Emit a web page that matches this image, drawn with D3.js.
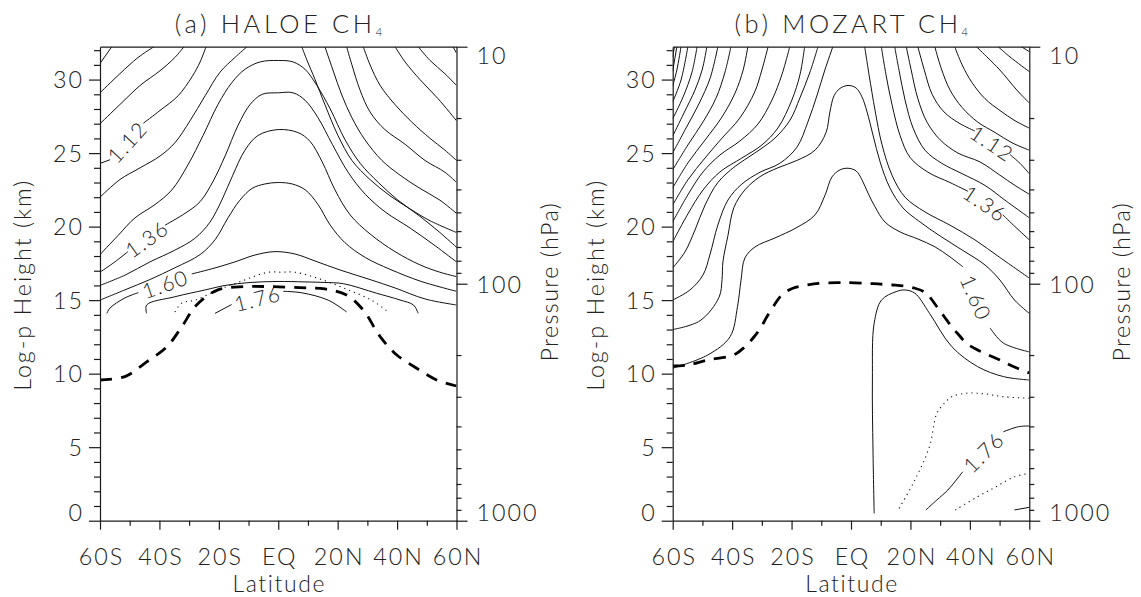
<!DOCTYPE html>
<html><head><meta charset="utf-8">
<script src="https://cdn.jsdelivr.net/npm/d3@7"></script>
<style>
body{margin:0;background:#fff}
svg{display:block}
text{font-family:Lato,"Liberation Sans",Arial,sans-serif;font-weight:300;fill:#222}
</style></head>
<body><svg id="c" width="1141" height="597"></svg>
<script>
// ---------- axis data ----------
const latTicks = [-60,-40,-20,0,20,40,60];
const latLabels = ["60S","40S","20S","EQ","20N","40N","60N"];
const latMinor = [-50,-30,-10,10,30,50];
const heightTicks = [0,5,10,15,20,25,30];
const heightMinor = [1,2,3,4,6,7,8,9,11,12,13,14,16,17,18,19,21,22,23,24,26,27,28,29,31,32];
const pressureTicks = [10,100,1000];
const pressureMinor = [20,30,40,50,60,70,80,90,200,300,400,500,600,700,800,900];
const scaleHeight = 7;           // km, log-p height
const pTop = 10, pBottom = 1000; // hPa

// ---------- panel (a) HALOE CH4 : contour lines [lat, km] ----------
const haloeLines = [
 {segs:[[[-60,31.1],[-56.0,32.24]]]},
 {segs:[[[-60,29.1],[-53.3,30.4],[-47.2,31.5],[-41.8,32.24]]]},
 {segs:[[[-60,27.0],[-53.3,28.3],[-46.5,29.6],[-39.8,30.6],[-34.8,31.5],[-31.7,32.24]]]},
 {lev:"1.12",lab:0,segs:[[[-60,24.3],[-56.6,24.55]],[[-45.4,27.03],[-39.8,27.9],[-33.7,28.9],[-29.0,30.2],[-26.3,31.2],[-24.3,32.24]],
   [[15.7,32.24],[18.4,30.65],[21.4,28.95],[24.8,27.4],[29.2,25.9],[34.9,24.5],[41.0,23.5],[47.7,22.6],[54.4,21.8],[60,20.9]]]},
 {segs:[[[-60,22.0],[-53.3,23.2],[-46.5,24.0],[-39.8,24.8],[-34.8,25.7],[-29.7,27.2],[-24.6,28.9],[-19.6,30.5],[-14.6,31.5],[-10.5,32.24]],
   [[7.9,32.24],[9.7,31.3],[12.4,30.0],[15.7,28.3],[20.1,26.2],[24.8,24.5],[30.9,23.2],[37.6,22.1],[44.4,21.2],[51.1,20.4],[60,19.6]]]},
 {segs:[[[23.0,32.24],[24.8,31.0],[27.5,29.3],[30.9,27.8],[35.9,26.6],[42.7,25.6],[49.4,24.5],[56.1,23.7],[60,23.0]]]},
 {segs:[[[28.6,32.24],[30.9,31.0],[34.3,29.6],[39.3,28.3],[45.0,27.1],[51.1,26.0],[56.1,25.2],[60,24.5]]]},
 {segs:[[[39.3,32.24],[42.7,31.2],[47.7,30.0],[53.8,28.7],[60,27.2]]]},
 {segs:[[[47.1,32.24],[51.1,31.3],[56.1,30.4],[60,29.6]]]},
 {segs:[[[58.8,32.24],[60,31.8]]]},
 {segs:[[[-60,18.1],[-53.9,19.4],[-48.2,20.6],[-41.5,21.5],[-35.8,22.5],[-30.4,24.2],[-25.3,26.2],[-20.3,28.3],[-15.6,29.8],[-11.2,30.7],[-6.1,31.2],[0,31.3],[5.0,31.2],[9.0,30.7],[13.0,29.6],[17.5,28.0],[22.5,25.9],[27.6,24.3],[33.7,23.0],[40.3,21.8],[47.7,20.7],[54.4,19.6],[60,18.6]]]},
 {lev:"1.36",lab:0,segs:[[[-60,16.9],[-55.0,17.6],[-50.6,18.3]],[[-38.1,20.1],[-31.4,20.9],[-26.3,21.7],[-21.9,23.1],[-17.9,24.8],[-13.5,26.9],[-9.5,28.3],[-5.4,29.0],[0,29.1],[5.0,29.1],[9.0,28.6],[13.4,27.4],[18.2,25.6],[23.5,23.7],[29.3,22.2],[36.0,21.0],[44.4,19.9],[52.8,18.7],[60,17.6]]]},
 {segs:[[[-60,16.0],[-51.6,16.7],[-43.2,17.6],[-34.8,18.4],[-28.1,19.2],[-23.0,20.3],[-19.0,21.8],[-15.3,23.5],[-11.2,25.2],[-6.8,26.2],[0,26.6],[6.6,26.4],[10.7,25.8],[14.8,24.4],[19.1,22.5],[24.2,20.8],[30.9,19.5],[39.3,18.3],[47.7,17.4],[54.4,16.9],[60,16.6]]]},
 {segs:[[[-60,15.0],[-51.6,15.7],[-43.2,16.4],[-34.8,17.2],[-26.3,18.1],[-21.3,19.1],[-16.9,20.6],[-12.9,21.8],[-8.8,22.6],[-4.5,22.9],[0,23.0],[4.7,22.9],[9.1,22.5],[13.4,21.5],[17.5,20.1],[22.5,18.9],[29.3,17.9],[37.6,17.1],[47.7,16.3],[54.4,15.9],[60,15.6]]]},
 {lev:"1.60",lab:0,segs:[[[-57.7,14.1],[-56.6,14.47],[-51.6,15.15],[-47.1,15.51]],
   [[-29.1,16.78],[-21.3,17.19],[-14.6,17.6],[-7.8,18.07],[-1.1,18.3],[5.6,18.14],[12.4,17.66],[20.8,17.05],[30.9,16.4],[39.3,15.83],[49.4,15.08],[60,14.67]]]},
 {segs:[[[-44.3,14.1],[-44.3,14.67],[-34.8,15.23],[-24.7,15.69],[-17.9,16.0],[-9.5,16.2],[-0.1,16.27],[9.0,16.24],[15.7,16.2],[21.9,16.12],[33.1,15.47],[41.0,15.01],[45.5,14.67],[47.1,14.1]]]},
 {dot:true,segs:[[[-34.8,14.2],[-32.5,14.8],[-28.0,15.0],[-20.2,15.7],[-12.3,16.3],[-3.4,16.9],[1.1,16.9],[5.6,16.9],[14.6,16.4],[23.5,15.7],[31.4,15.0],[37.0,14.2]]]},
 {lev:"1.76",lab:0,segs:[[[-21.3,14.1],[-15.7,14.7]],[[1.7,15.6],[7.9,15.5],[16.8,15.0],[23.0,14.2]]]}
];
const haloeTropopause = [[-60,9.57],[-51.6,9.80],[-44.3,10.80],[-37.5,11.82],[-32.5,13.18],[-27.5,14.67],[-20.3,15.70],[-11.2,15.92],[-2.8,15.92],[7.3,15.85],[15.7,15.76],[23.0,15.35],[28.6,14.33],[34.3,12.52],[39.9,11.27],[46.6,10.37],[53.3,9.57],[60,9.16]];

// ---------- panel (b) MOZART CH4 ----------
const mozartLines = [
 {segs:[[[-60,31.54],[-59.4,32.24]]]},
 {segs:[[[-60,30.59],[-58.6,32.24]]]},
 {segs:[[[-60,29.57],[-58.6,30.65],[-57.2,32.24]]]},
 {segs:[[[-60,28.48],[-57.2,29.97],[-54.9,32.24]]]},
 {segs:[[[-60,27.33],[-56.5,28.82],[-53.5,30.51],[-51.8,32.24]], [[57.3,32.24],[60,31.9]]]},
 {segs:[[[-60,26.16],[-56.2,27.73],[-52.5,29.29],[-50.1,30.65],[-48.5,32.24]], [[49.5,32.24],[53.5,31.54],[60,30.54]]]},
 {segs:[[[-60,25.01],[-55.5,26.71],[-51.2,28.34],[-47.4,30.1],[-44.8,32.24]], [[42.2,32.24],[46.1,31.47],[50.1,30.65],[55.8,29.29],[60,28.41]]]},
 {segs:[[[-60,23.86],[-54.9,25.55],[-49.8,27.12],[-45.4,28.75],[-42.4,30.51],[-40.4,32.24]],
   [[34.9,32.24],[37.4,31.0],[40.7,29.8],[45.1,28.7],[50.1,27.9],[55.2,27.2],[60,26.7]]]},
 {segs:[[[-60,22.63],[-54.9,24.33],[-49.1,25.89],[-43.4,27.46],[-39.0,29.09],[-36.3,30.65],[-34.7,32.24]],
   [[28.2,32.24],[30.3,30.8],[33.3,29.3],[37.4,28.1],[42.7,27.1],[48.5,26.4],[54.2,25.7],[60,25.2]]]},
 {lev:"1.12",lab:1,segs:[[[-60,21.47],[-54.9,23.18],[-49.1,24.67],[-43.4,26.02],[-37.4,27.39],[-32.4,29.16],[-30.0,30.65],[-27.9,32.24]],
   [[22.5,32.24],[24.6,30.7],[27.3,29.0],[31.3,27.8],[36.7,27.0],[41.7,26.5]],[[53.5,24.9],[56.9,24.3],[60,23.6]]]},
 {segs:[[[-60,20.32],[-54.9,22.16],[-49.8,23.72],[-44.1,24.87],[-37.4,25.82],[-31.3,26.98],[-26.6,28.61],[-23.3,30.31],[-20.6,32.24]],
   [[18.6,32.24],[20.2,30.7],[22.5,28.7],[25.6,27.1],[30.0,25.9],[36.0,25.0],[43.4,24.4],[50.1,23.5],[55.2,22.8],[60,22.2]]]},
 {segs:[[[-60,18.96],[-54.9,20.86],[-49.8,22.49],[-44.1,23.72],[-36.7,24.67],[-30.0,25.55],[-24.6,26.71],[-19.9,28.61],[-17.2,30.31],[-15.6,32.24]],
   [[14.7,32.24],[16.2,30.6],[18.2,28.6],[20.9,26.7],[24.9,25.2],[30.6,24.3],[37.4,23.6],[45.1,22.8],[51.8,21.8],[60,20.6]]]},
 {lev:"1.36",lab:1,segs:[[[-60,17.19],[-55.9,18.27],[-52.5,19.77],[-49.1,21.47],[-44.8,23.0],[-39.0,24.1],[-32.4,25.0],[-25.6,26.02],[-20.5,27.25],[-17.2,28.75],[-13.8,30.51],[-11.1,32.24]],
   [[10.2,32.24],[11.8,30.3],[13.8,28.3],[16.5,26.2],[19.9,24.7],[25.9,23.7],[33.3,23.0],[39.4,22.4]],[[51.1,20.8],[55.2,20.0],[60,19.1]]]},
 {segs:[[[-60,15.01],[-54.2,15.69],[-49.8,16.71],[-47.5,18.07],[-44.8,20.11],[-41.4,21.81],[-36.7,22.9],[-30.6,23.7],[-24.0,24.3],[-18.2,25.4],[-14.5,27.12],[-11.4,28.95],[-8.8,30.65],[-6.1,32.24]],
   [[4.6,32.24],[6.1,30.3],[8.1,27.9],[10.4,25.6],[13.8,23.5],[18.2,22.0],[24.9,21.0],[33.3,20.1],[41.7,19.1],[50.1,17.9],[60,16.5]]]},
 {segs:[[[-60,13.0],[-50.8,13.6],[-44.4,15.2],[-43.4,16.4],[-43.1,17.6],[-41.4,19.4],[-39.4,21.3],[-35.7,22.5],[-30.6,23.4],[-24.6,24.0],[-18.2,24.5],[-12.1,25.2],[-8.4,26.4],[-7.1,27.8],[-5.7,28.9],[-3.7,29.4],[-1.0,29.6],[1.7,29.43],[3.7,28.82],[5.4,27.8],[7.4,26.23],[9.8,24.4],[13.1,22.63],[17.5,21.27],[23.2,20.32],[30.0,19.36],[37.4,18.41],[45.1,17.39],[50.1,16.37],[55.0,15.01],[60,14.1]]]},
 {lev:"1.60",lab:0,segs:[[[-60,10.37],[-48.2,11.27],[-40.7,12.51],[-38.2,14.55],[-37.0,16.37],[-35.7,17.87],[-32.3,18.62],[-25.6,19.23],[-18.5,19.91],[-12.1,20.8],[-8.7,22.16],[-6.4,23.38],[-3.7,23.86],[-1.0,23.97],[1.7,23.79],[3.7,23.18],[5.7,22.29],[8.1,21.34],[11.4,20.32],[16.5,19.64],[22.5,19.16],[28.3,18.62],[33.3,17.94],[37.7,17.26]],
   [[46.8,13.11],[51.2,12.09],[60,11.48]]]},
 {segs:[[[60,9.57],[51.3,9.8],[42.6,10.48],[33.9,11.84],[26.4,14.11],[21.5,15.47],[18.2,15.69],[15.2,15.58],[10.3,15.01],[7.8,13.43],[7.2,9.57],[7.4,4.81],[7.8,0.5]]]},
 {dot:true,segs:[[[16.2,0.84],[21.5,2.77],[26.4,5.03],[28.9,7.3],[31.4,7.98],[33.9,8.43],[38.9,8.67],[45.1,8.62],[51.3,8.43],[60,8.33]]]},
 {lev:"1.76",lab:0,segs:[[[25.2,0.73],[28.9,1.41],[32.6,2.09],[37.6,3.33]],[[51.3,6.05],[56.3,6.39],[60,6.44]]]},
 {dot:true,segs:[[[35.1,0.73],[42.6,1.63],[48.8,2.31],[55.0,2.99],[60,3.22]]]},
 {segs:[[[55.0,0.73],[60,0.91]]]}
];
const mozartTropopause = [[-60,10.52],[-55.0,10.59],[-48.2,10.93],[-39.5,11.27],[-35.7,11.83],[-32.6,12.51],[-30.2,13.19],[-28.3,13.87],[-25.8,14.67],[-23.3,15.35],[-19.6,15.81],[-14.6,16.03],[-10.9,16.14],[-4.6,16.19],[-0.9,16.19],[5.3,16.14],[9.1,16.1],[14.0,16.03],[17.7,15.96],[21.5,15.81],[24.6,15.57],[26.4,15.23],[28.9,14.55],[31.4,13.87],[33.9,13.19],[36.3,12.63],[38.9,12.06],[42.6,11.61],[46.3,11.27],[50.1,10.93],[55.0,10.45],[60,10.05]];

// ---------- layout ----------
const TOP = 46.7, BOT = 520.7;
const panels = [
  {x0:100, x1:456.5, title:"(a) HALOE CH", lines:haloeLines, trop:haloeTropopause, id:"a"},
  {x0:672.7, x1:1029.3, title:"(b) MOZART CH", lines:mozartLines, trop:mozartTropopause, id:"b"}
];
const zTop = scaleHeight*Math.log(pBottom/pTop);
const svg = d3.select("#c");
const AX = "#1a1a1a";
const FONT = 'Lato, "Liberation Sans", Arial, sans-serif';

panels.forEach(P=>{
  const g = svg.append("g");
  const x = d3.scaleLinear().domain([-60,60]).range([P.x0,P.x1]);
  const y = d3.scaleLinear().domain([0,zTop]).range([BOT,TOP]);
  const yp = d3.scaleLog().domain([pBottom,pTop]).range([BOT,TOP]);
  const line = d3.line().x(d=>x(d[0])).y(d=>y(d[1])).curve(d3.curveCatmullRom.alpha(0.5));

  g.append("clipPath").attr("id","clip"+P.id).append("rect")
    .attr("x",P.x0).attr("y",TOP).attr("width",P.x1-P.x0).attr("height",BOT-TOP);
  const plot = g.append("g").attr("clip-path",`url(#clip${P.id})`);

  P.lines.forEach(L=>{
    L.segs.forEach(s=>{
      plot.append("path").attr("d",line(s)).attr("fill","none")
        .attr("stroke","#111").attr("stroke-width",L.dot?1.1:1)
        .attr("stroke-dasharray",L.dot?"1.2,4":null);
    });
    if(L.lab!=null){
      const a=L.segs[L.lab], b=L.segs[L.lab+1];
      const p1=a[a.length-1], p2=b[0];
      const X1=x(p1[0]),Y1=y(p1[1]),X2=x(p2[0]),Y2=y(p2[1]);
      let ang=Math.atan2(Y2-Y1,X2-X1)*180/Math.PI;
      if(ang>90) ang-=180; if(ang<-90) ang+=180;
      g.append("text").attr("transform",`translate(${(X1+X2)/2},${(Y1+Y2)/2}) rotate(${ang})`)
        .attr("text-anchor","middle").attr("dominant-baseline","central")
        .attr("font-size",21).attr("letter-spacing","1.5px").text(L.lev);
    }
  });
  plot.append("path").attr("d",line(P.trop)).attr("fill","none")
    .attr("stroke","#000").attr("stroke-width",2.8).attr("stroke-dasharray","12,9");

  const styleAx = sel=>{sel.selectAll("path,line").attr("stroke",AX).attr("stroke-width",1.2);};
  const styleTx = sel=>sel.attr("font-size",23.3).attr("fill","#222").attr("font-family",FONT)
      .attr("font-weight",300).attr("letter-spacing","2px");

  const bot = g.append("g").attr("transform",`translate(0,${BOT})`)
    .call(d3.axisBottom(x).tickValues(latTicks).tickSize(9).tickSizeOuter(0).tickFormat((d,i)=>latLabels[i]));
  styleAx(bot);
  bot.selectAll("text").attr("y",44.3).attr("dy",null).attr("dx","1px").call(styleTx);
  g.append("g").attr("transform",`translate(0,${BOT})`)
    .call(d3.axisBottom(x).tickValues(latMinor).tickSize(5).tickSizeOuter(0).tickFormat("")).call(s=>s.select(".domain").remove()).call(styleAx);

  g.append("g").attr("transform",`translate(0,${TOP})`)
    .call(d3.axisTop(x).tickValues([]).tickSizeOuter(0)).call(styleAx);

  const left = g.append("g").attr("transform",`translate(${P.x0},0)`)
    .call(d3.axisLeft(y).tickValues(heightTicks).tickSize(11).tickSizeOuter(0).tickFormat(d3.format("d")));
  styleAx(left);
  left.selectAll(".tick text").attr("x",-16).attr("dy",null)
    .attr("transform",d=>{const yy=y(d); const c=Math.max(TOP+8.3,Math.min(BOT-8.3,yy)); return `translate(0,${c-yy+8.3})`;})
    .call(styleTx);
  g.append("g").attr("transform",`translate(${P.x0},0)`)
    .call(d3.axisLeft(y).tickValues(heightMinor).tickSize(6).tickSizeOuter(0).tickFormat("")).call(s=>s.select(".domain").remove()).call(styleAx);

  const right = g.append("g").attr("transform",`translate(${P.x1},0)`)
    .call(d3.axisRight(yp).tickValues(pressureTicks).tickSize(11).tickSizeOuter(0).tickFormat(d3.format("d")));
  styleAx(right);
  right.selectAll(".tick text").attr("x",20).attr("dy",null)
    .attr("transform",d=>{const yy=yp(d); const c=Math.max(TOP+8.3,Math.min(BOT-8.3,yy)); return `translate(0,${c-yy+8.3})`;})
    .call(styleTx);
  g.append("g").attr("transform",`translate(${P.x1},0)`)
    .call(d3.axisRight(yp).tickValues(pressureMinor).tickSize(5).tickSizeOuter(0).tickFormat("")).call(s=>s.select(".domain").remove()).call(styleAx);

  const cx=(P.x0+P.x1)/2;
  const t=g.append("text").attr("x",cx+2).attr("y",33.3).attr("text-anchor","middle")
    .attr("font-size",25.5).attr("letter-spacing","3.6px");
  t.append("tspan").text(P.title);
  t.append("tspan").attr("font-size",11).attr("dy",2.7).text("4");
  g.append("text").attr("x",cx+1).attr("y",592).attr("text-anchor","middle")
    .attr("font-size",23).attr("letter-spacing","1.6px").text("Latitude");
  g.append("text").attr("transform",`translate(${P.x0-69},${(TOP+BOT)/2+1}) rotate(-90)`)
    .attr("text-anchor","middle").attr("font-size",23.3).attr("letter-spacing","2px").text("Log-p Height (km)");
  g.append("text").attr("transform",`translate(${P.x1+101},${(TOP+BOT)/2-2}) rotate(-90)`)
    .attr("text-anchor","middle").attr("font-size",23.3).attr("letter-spacing","1.4px").text("Pressure (hPa)");
});
</script></body></html>
